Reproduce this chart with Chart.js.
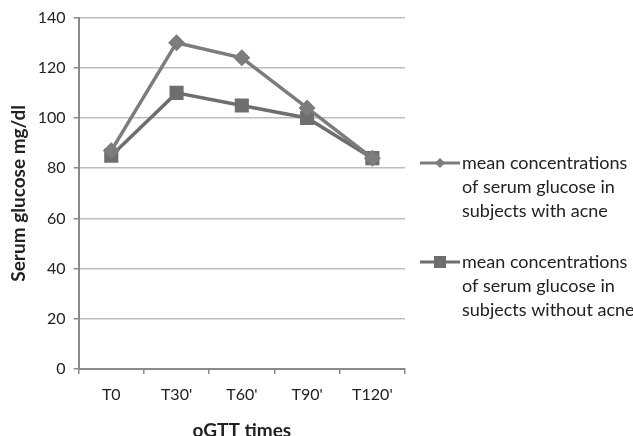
<!DOCTYPE html>
<html>
<head>
<meta charset="utf-8">
<script src="https://cdn.jsdelivr.net/npm/chart.js@4"></script>
<style>
  html, body { margin: 0; padding: 0; background: #fff; overflow: hidden; }
  #wrap { width: 633px; height: 442px; position: relative; }
</style>
</head>
<body>
<div id="wrap"><canvas id="glucoseChart"></canvas></div>
<script>
// chart data
const categories = ['T0', "T30'", "T60'", "T90'", "T120'"];
const withAcne = [87, 130, 124, 104, 84];
const withoutAcne = [85, 110, 105, 100, 84];
const yTicks = [0, 20, 40, 60, 80, 100, 120, 140];
const seriesNames = [
    ['mean concentrations', 'of serum glucose in', 'subjects with acne'],
    ['mean concentrations', 'of serum glucose in', 'subjects without acne']
];

const FONT = 'Lato, "Open Sans", sans-serif';

// draws the multi-line legend on the right
const sideLegend = {
    id: 'sideLegend',
    afterDraw(chart) {
        const ctx = chart.ctx;
        const startY = [163, 262];
        ctx.save();
        chart.data.datasets.forEach(function(ds, i) {
            const y = startY[i];
            ctx.strokeStyle = ds.borderColor;
            ctx.lineWidth = 3;
            ctx.beginPath();
            ctx.moveTo(420, y);
            ctx.lineTo(460, y);
            ctx.stroke();
            ctx.fillStyle = ds.backgroundColor;
            ctx.beginPath();
            if (ds.pointStyle === 'rectRot') {
                ctx.moveTo(440, y - 5); ctx.lineTo(445, y); ctx.lineTo(440, y + 5); ctx.lineTo(435, y);
            } else {
                ctx.rect(434, y - 6, 12, 12);
            }
            ctx.closePath();
            ctx.fill();
            ctx.fillStyle = '#222';
            ctx.font = '18px ' + FONT;
            ctx.textBaseline = 'middle';
            ctx.textAlign = 'left';
            seriesNames[i].forEach(function(line, j) {
                ctx.fillText(line, 462, y + j * 24);
            });
        });
        ctx.restore();
    }
};

const ctx = document.getElementById('glucoseChart').getContext('2d');
const glucoseChart = new Chart(ctx, {
    type: 'line',
    data: {
        labels: categories,
        datasets: [{
            label: seriesNames[0].join(' '),
            data: withAcne,
            borderColor: '#7c7c7c',
            backgroundColor: '#7c7c7c',
            borderWidth: 3.5,
            pointStyle: 'rectRot',
            pointRadius: 6,
            pointHoverRadius: 6,
            tension: 0
        }, {
            label: seriesNames[1].join(' '),
            data: withoutAcne,
            borderColor: '#6e6e6e',
            backgroundColor: '#6e6e6e',
            borderWidth: 3.5,
            pointStyle: 'rect',
            pointRadius: 7.5,
            pointHoverRadius: 7.5,
            tension: 0
        }]
    },
    options: {
        responsive: true,
        maintainAspectRatio: false,
        animation: false,
        layout: { padding: { top: 11, right: 228, left: 1, bottom: 0 } },
        plugins: {
            legend: { display: false },
            tooltip: { enabled: false }
        },
        scales: {
            x: {
                offset: true,
                grid: {
                    offset: true,
                    drawOnChartArea: false,
                    drawTicks: true,
                    tickLength: 5,
                    color: '#8a8a8a',
                    lineWidth: 1.5
                },
                border: { color: '#8a8a8a', width: 2 },
                ticks: {
                    color: '#222',
                    font: { family: FONT, size: 16 },
                    padding: 11
                },
                title: {
                    display: true,
                    text: 'oGTT times',
                    color: '#222',
                    font: { family: FONT, size: 19, weight: 'bold' },
                    padding: { top: 4, bottom: 0 }
                }
            },
            y: {
                min: 0,
                max: 140,
                afterBuildTicks: function(scale) {
                    scale.ticks = yTicks.map(v => ({ value: v }));
                },
                grid: {
                    color: '#bdbdbd',
                    lineWidth: 1.5,
                    tickLength: 5,
                    tickColor: '#8a8a8a'
                },
                border: { color: '#8a8a8a', width: 2 },
                ticks: {
                    color: '#222',
                    font: { family: FONT, size: 16 },
                    padding: 8
                },
                title: {
                    display: true,
                    text: 'Serum glucose mg/dl',
                    color: '#222',
                    font: { family: FONT, size: 19, weight: 'bold' },
                    padding: { top: 6, bottom: 0 }
                }
            }
        }
    },
    plugins: [sideLegend]
});
</script>
</body>
</html>
